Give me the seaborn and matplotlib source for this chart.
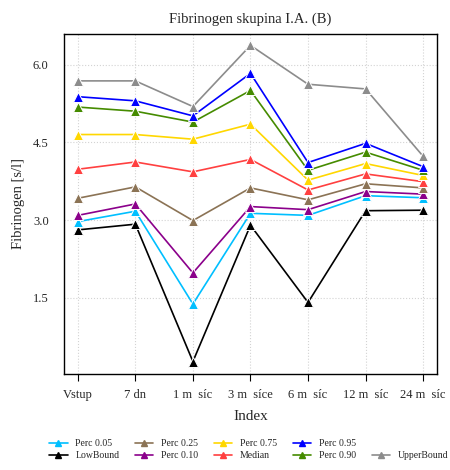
## arrays and tables
import numpy as np
import pandas as pd
## visualisation
import matplotlib
matplotlib.use('Agg')
from matplotlib import pyplot as plt
from matplotlib.lines import Line2D
import seaborn as sns

## data
ticks = ['Vstup', '7 dn', '1 m  síc', '3 m  síce', '6 m  síc', '12 m  síc', '24 m  síc']
low_bound = [2.81, 2.92, 0.27, 2.90, 1.41, 3.18, 3.19]
perc_005 = [2.97, 3.17, 1.38, 3.13, 3.09, 3.47, 3.43]
perc_010 = [3.09, 3.31, 1.98, 3.26, 3.20, 3.55, 3.50]
perc_025 = [3.42, 3.64, 2.99, 3.62, 3.39, 3.70, 3.62]
median = [3.98, 4.12, 3.93, 4.17, 3.58, 3.89, 3.74]
perc_075 = [4.65, 4.65, 4.56, 4.85, 3.77, 4.09, 3.86]
perc_090 = [5.18, 5.10, 4.89, 5.50, 3.96, 4.31, 3.96]
perc_095 = [5.38, 5.30, 5.01, 5.83, 4.11, 4.48, 4.03]
upper_bound = [5.685, 5.685, 5.19, 6.37, 5.62, 5.53, 4.23]

series = {
    'LowBound': low_bound,
    'Perc 0.05': perc_005,
    'Perc 0.10': perc_010,
    'Perc 0.25': perc_025,
    'Median': median,
    'Perc 0.75': perc_075,
    'Perc 0.90': perc_090,
    'Perc 0.95': perc_095,
    'UpperBound': upper_bound,
}
colors = {
    'LowBound': '#000000',
    'Perc 0.05': '#00BFFF',
    'Perc 0.10': '#8B008B',
    'Perc 0.25': '#8B7355',
    'Median': '#FF4040',
    'Perc 0.75': '#FFD700',
    'Perc 0.90': '#458B00',
    'Perc 0.95': '#0000FF',
    'UpperBound': '#8C8C8C',
}

## long table
d = pd.DataFrame([
    {'pos': i + 1, 'value': v, 'series': name}
    for name, vals in series.items()
    for i, v in enumerate(vals)
])

sns.set_style('white')
plt.rcParams['font.family'] = ['Liberation Serif', 'DejaVu Serif']

fig = plt.figure(figsize=(4.5, 4.7), dpi=100)
ax = fig.add_axes([0.1422, 0.2043, 0.8288, 0.7234])
sns.lineplot(
    data=d,
    x='pos',
    y='value',
    hue='series',
    palette=colors,
    marker='^',
    markersize=6.5,
    linewidth=1.2,
    legend=False,
    ax=ax,
)
# white rim so the lines stop short of the triangles
for ln in ax.lines:
    ln.set_markeredgecolor('white')
    ln.set_markeredgewidth(0.7)

ax.set_xlim(1 - 0.24, 7 + 0.24)
ax.set_ylim(0.03, 6.59)
ax.set_xticks(range(1, 8))
ax.set_xticklabels(ticks, fontsize=9)
ax.set_yticks([1.5, 3.0, 4.5, 6.0])
ax.set_yticklabels(['1.5', '3.0', '4.5', '6.0'], fontsize=9)
ax.grid(True, color='#D3D3D3', linestyle=':', linewidth=0.8)
ax.set_axisbelow(True)
for s in ax.spines.values():
    s.set_color('black')
    s.set_linewidth(1.0)
ax.tick_params(axis='both', direction='out', length=5, color='black', width=0.8,
               bottom=True, left=False, pad=6)
ax.set_xlabel('Index', fontsize=11, labelpad=6)
ax.set_ylabel('Fibrinogen [s/l]', fontsize=10.5, labelpad=6)
ax.set_title('Fibrinogen skupina I.A. (B)', fontsize=10.5, pad=8)

## legend, column-wise like the original
order = ['Perc 0.05', 'LowBound', 'Perc 0.25', 'Perc 0.10', 'Perc 0.75',
         'Median', 'Perc 0.95', 'Perc 0.90', None, 'UpperBound']
handles, labels = [], []
for name in order:
    if name is None:
        handles.append(Line2D([], [], linestyle='none'))
        labels.append('')
    else:
        handles.append(Line2D([], [], color=colors[name], marker='^',
                              markersize=4, linewidth=1.2))
        labels.append(name)
fig.legend(handles, labels, ncol=5, loc='center', bbox_to_anchor=(0.553, 0.043),
           frameon=False, fontsize=7, handlelength=1.9, columnspacing=1.6,
           labelspacing=0.3, handletextpad=0.8)

fig.savefig('out.png', dpi=100)
